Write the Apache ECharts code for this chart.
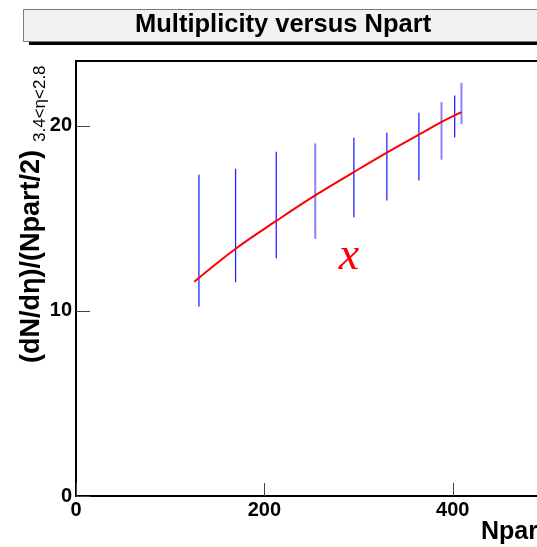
<!DOCTYPE html>
<html>
<head>
<meta charset="utf-8">
<script src="https://cdn.jsdelivr.net/npm/echarts@6/dist/echarts.min.js"></script>
<style>html,body{margin:0;padding:0;background:#fff;}#c{width:537px;height:547px;}</style>
</head>
<body>
<div id="c"></div>
<script>
// ---- data ----
const npart   = [130.5, 169.4, 212.6, 254, 295, 330, 364, 388, 402, 409.2];
const errLow  = [10.24, 11.55, 12.85, 13.89, 15.06, 15.97, 17.05, 18.17, 19.37, 20.09];
const errHigh = [17.35, 17.68, 18.6, 19.05, 19.35, 19.62, 20.7, 21.28, 21.63, 22.32];
const lightBars = [3, 7, 9];
const fitN = [125.5, 169.8, 212.6, 254.3, 295, 330, 364, 387.7, 409.2];
const fitY = [11.57, 13.37, 14.86, 16.25, 17.5, 18.55, 19.52, 20.2, 20.74];
const xTicks = [0, 200, 400];
const yTicks = [0, 10, 20];

const FONT = 'Liberation Sans, Arial, Helvetica, sans-serif';
const chart = echarts.init(document.getElementById('c'), null, {renderer: 'canvas'});

const barData = npart.map((n, i) => [n, errLow[i], errHigh[i]]);

chart.setOption({
  backgroundColor: '#ffffff',
  animation: false,
  title: {
    text: 'Multiplicity versus Npart',
    left: 130, top: 7,
    textStyle: {fontFamily: FONT, fontWeight: 'bold', fontSize: 25.5, color: '#000'}
  },
  grid: {left: 76, top: 61, height: 435, width: 471, outerBoundsMode: 'none', containLabel: false,
    show: true, borderColor: '#000', borderWidth: 2, backgroundColor: 'transparent'},
  xAxis: {
    type: 'value', min: 0, max: 500, interval: 200,
    splitLine: {show: false},
    axisLine: {show: true, onZero: false, lineStyle: {color: '#000', width: 1.5}},
    axisTick: {inside: true, length: 13, lineStyle: {color: '#444', width: 1}},
    axisLabel: {margin: 4, showMaxLabel: false, fontFamily: FONT, fontWeight: 'bold', fontSize: 20, color: '#000',
      formatter: v => xTicks.includes(v) ? String(v) : ''}
  },
  yAxis: {
    type: 'value', min: 0, max: 23.5, interval: 10,
    splitLine: {show: false},
    axisLine: {show: true, onZero: false, lineStyle: {color: '#000', width: 1.5}},
    axisTick: {inside: true, length: 14, lineStyle: {color: '#444', width: 1}},
    axisLabel: {margin: 4, showMaxLabel: false, fontFamily: FONT, fontWeight: 'bold', fontSize: 20, color: '#000',
      formatter: v => yTicks.includes(v) ? String(v) : ''}
  },
  graphic: [
    {type: 'rect', z: -1, shape: {x: 29, y: 12, width: 600, height: 33}, style: {fill: '#000'}},
    {type: 'rect', z: -1, shape: {x: 23.5, y: 9.5, width: 600, height: 32}, style: {fill: '#f2f2f2', stroke: '#7a7a7a', lineWidth: 1}},
    {type: 'text', x: 32, y: 363, rotation: Math.PI / 2,
      style: {text: '(dN/dη)/(Npart/2)', fontFamily: FONT, fontWeight: 'bold', fontSize: 27, fill: '#000', align: 'left', verticalAlign: 'middle'}},
    {type: 'text', x: 40, y: 142, rotation: Math.PI / 2,
      style: {text: '3.4<η<2.8', fontFamily: FONT, fontSize: 17, fill: '#000', align: 'left', verticalAlign: 'middle'}},
    {type: 'text', left: 481, top: 520,
      style: {text: 'Npart', fontFamily: FONT, fontWeight: 'bold', fontSize: 25, fill: '#000'}},
    {type: 'text', x: 349, y: 257,
      style: {text: 'x', fontFamily: 'Liberation Serif, Times New Roman, serif', fontStyle: 'italic', fontSize: 46, fill: '#ff0000', align: 'center', verticalAlign: 'middle'}}
  ],
  series: [
    {
      type: 'custom',
      data: barData,
      clip: false,
      renderItem: function (params, api) {
        const x = api.value(0);
        const p1 = api.coord([x, api.value(1)]);
        const p2 = api.coord([x, api.value(2)]);
        const light = lightBars.includes(params.dataIndex);
        return {
          type: 'line',
          shape: {x1: p1[0], y1: p1[1], x2: p2[0], y2: p2[1]},
          style: {stroke: light ? 'rgba(110,110,255,0.85)' : '#2626ff', lineWidth: light ? 2 : 1.3}
        };
      }
    },
    {
      type: 'line',
      data: fitN.map((n, i) => [n, fitY[i]]),
      smooth: 0.4,
      showSymbol: false,
      lineStyle: {color: '#ff0000', width: 2},
      z: 5
    }
  ]
});
</script>
</body>
</html>
